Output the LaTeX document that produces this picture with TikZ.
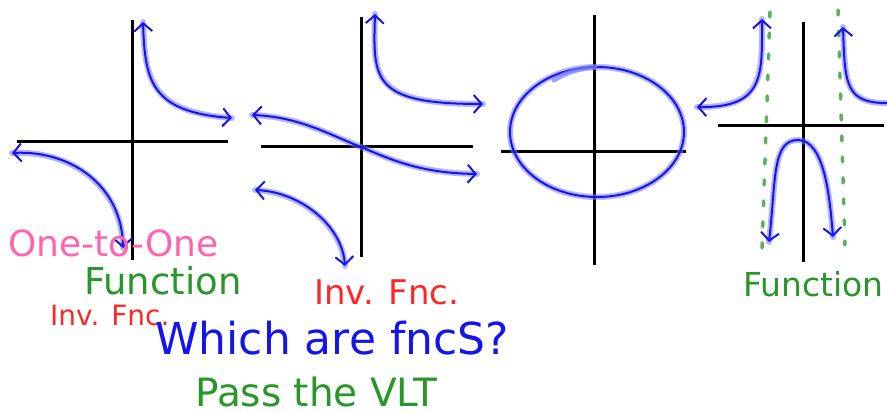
\documentclass[tikz,border=0pt]{standalone}
\usepackage{fontspec}
\setmainfont{DejaVu Sans}
\usetikzlibrary{arrows.meta}
\definecolor{penblue}{RGB}{20,20,235}
\definecolor{halob}{RGB}{120,120,255}
\definecolor{pengreen}{RGB}{40,150,40}
\definecolor{pengpink}{RGB}{255,100,170}
\definecolor{penred}{RGB}{250,40,40}
\tikzset{
  axis/.style={line width=3pt, black},
  curvehalo/.style={line width=6pt, halob, opacity=0.55, line cap=round, line join=round},
  curve/.style={line width=2pt, penblue, line cap=round,
     arrows={Straight Barb[length=8pt,width=18pt]-Straight Barb[length=8pt,width=18pt]}},
  curvelo/.style={line width=2pt, penblue, line cap=round,
     arrows={Straight Barb[length=8pt,width=18pt]-}},
  asym/.style={line width=3.5pt, pengreen!75, line cap=round, dash pattern=on 5pt off 16pt},
  lbl/.style={inner sep=0pt, anchor=base west},
}
\begin{document}
\begin{tikzpicture}[x=1pt,y=-1pt]
\useasboundingbox (0,0) rectangle (887,414);
% ---------- graph 1
\draw[axis] (132,20) -- (132,260);
\draw[axis] (17,142) -- (228,142);
\draw[curvehalo] (143,22) .. controls (145,80) and (150,112) .. (232,118);
\draw[curve] (143,22) .. controls (145,80) and (150,112) .. (232,118);
\draw[curvehalo] (12,153) .. controls (70,150) and (122,185) .. (123,248);
\draw[curve] (12,153) .. controls (70,150) and (122,185) .. (123,248);
% ---------- graph 2
\draw[axis] (361,17) -- (361,257);
\draw[axis] (261,147) -- (473,147);
\draw[curvehalo] (375,14) .. controls (373,80) and (372,104) .. (483,104);
\draw[curve] (375,14) .. controls (373,80) and (372,104) .. (483,104);
\draw[curvehalo] (252,115) .. controls (300,117) and (330,135) .. (361,147) .. controls (392,160) and (420,173) .. (477,174);
\draw[curve] (252,115) .. controls (300,117) and (330,135) .. (361,147) .. controls (392,160) and (420,173) .. (477,174);
\draw[curvehalo] (255,190) .. controls (300,192) and (342,225) .. (345,266);
\draw[curve] (255,190) .. controls (300,192) and (342,225) .. (345,266);
% ---------- graph 3
\draw[axis] (594,15) -- (594,265);
\draw[axis] (501,152) -- (686,152);
\draw[line width=6pt, halob, opacity=0.55] (597,132) ellipse [x radius=87, y radius=65];
\draw[line width=2pt, penblue] (597,132) ellipse [x radius=87, y radius=65];
\draw[line width=5pt, halob, opacity=0.7, line cap=round] (554,80) .. controls (570,70) and (585,68) .. (595,67);
% ---------- graph 4
\draw[asym] (770,12) -- (762,250);
\draw[asym] (838,10) -- (845,245);
\draw[axis] (803,22) -- (803,262);
\draw[axis] (718,126) -- (884,126);
\draw[curvehalo] (762,19) .. controls (762,75) and (765,108) .. (697,107);
\draw[curve] (762,19) .. controls (762,75) and (765,108) .. (697,107);
\draw[curvehalo] (843,27) .. controls (845,85) and (845,104) .. (890,103);
\draw[curvelo] (843,27) .. controls (845,85) and (845,104) .. (890,103);
\draw[curvehalo] (769,242) .. controls (776,180) and (772,140) .. (798,140) .. controls (825,140) and (830,200) .. (833,237);
\draw[curve] (769,242) .. controls (776,180) and (772,140) .. (798,140) .. controls (825,140) and (830,200) .. (833,237);
% ---------- texts
\node[lbl, text=pengpink, font=\fontsize{36}{36}\selectfont] (oto) at (8,257) {One-to-One};
\node[lbl, text=pengreen, font=\fontsize{37}{37}\selectfont] (fn1) at (84,295) {Function};
\node[lbl, text=penred, font=\fontsize{28}{28}\selectfont] (inv1) at (50,326) {Inv. Fnc.};
\node[lbl, text=penred, font=\fontsize{34}{34}\selectfont] (inv2) at (314,305) {Inv. Fnc.};
\node[lbl, text=penblue, font=\fontsize{44}{44}\selectfont] (which) at (155,354) {Which are fncS?};
\node[lbl, text=pengreen, font=\fontsize{39}{39}\selectfont] (pass) at (195,406) {Pass the VLT};
\node[lbl, text=pengreen, font=\fontsize{33}{33}\selectfont] (fn2) at (743,297) {Function};
\end{tikzpicture}
\end{document}
